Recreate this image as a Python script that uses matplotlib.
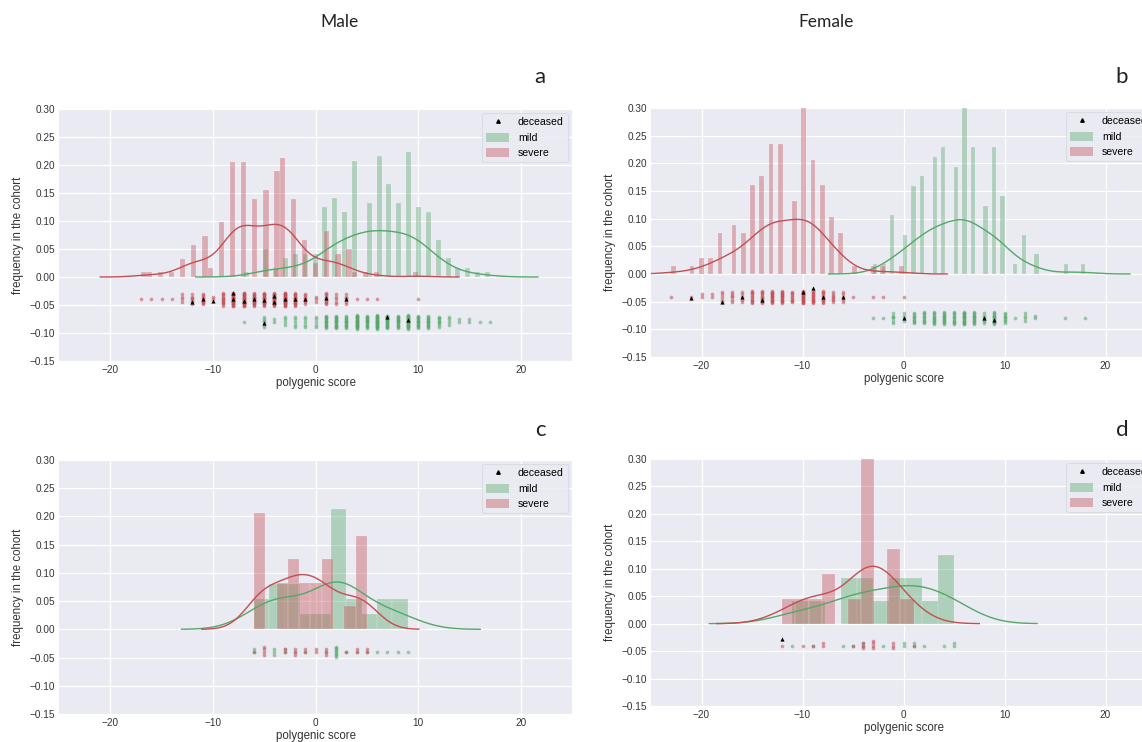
import numpy as np
import matplotlib.pyplot as plt
from matplotlib.patches import Patch
from matplotlib.lines import Line2D

plt.rcParams['font.family'] = ['Liberation Sans', 'DejaVu Sans']

RED = '#c44e52'
GREEN = '#55a868'

# a: male, large cohort (integer polygenic scores and patient counts)
sev_a_score = [-17, -16, -15, -14, -13, -12, -11, -10, -9, -8, -7, -6, -5, -4, -3, -2, -1, 0, 1, 2, 3, 4, 5, 6, 10]
sev_a_count = [1, 1, 1, 1, 4, 7, 9, 2, 12, 25, 25, 17, 19, 23, 26, 17, 8, 3, 10, 5, 6, 1, 1, 1, 1]
mild_a_score = [-7, -5, -4, -3, -2, -1, 0, 1, 2, 3, 4, 5, 6, 7, 8, 9, 10, 11, 12, 13, 14, 15, 16, 17]
mild_a_count = [1, 6, 2, 4, 5, 5, 5, 15, 17, 14, 25, 16, 26, 20, 16, 27, 15, 14, 8, 4, 2, 2, 1, 1]
dec_a_x = [-12, -11, -10, -8, -8, -7, -6, -5, -4, -4, -3, -2, -1, 1, 3, -5, 7, 9]
dec_a_y = [-0.045, -0.039, -0.043, -0.028, -0.040, -0.042, -0.039, -0.041, -0.034, -0.044,
           -0.040, -0.040, -0.040, -0.037, -0.039, -0.083, -0.071, -0.077]

# b: female, large cohort
sev_b_score = [-23, -21, -20, -19, -18, -17, -16, -15, -14, -13, -12, -11, -10, -9, -8, -7, -6, -5, -3, -2, 0]
sev_b_count = [1, 1, 2, 2, 5, 6, 5, 11, 12, 16, 16, 9, 21, 14, 11, 7, 5, 1, 1, 1, 1]
mild_b_score = [-3, -2, -1, 0, 1, 2, 3, 4, 5, 6, 7, 8, 9, 10, 11, 12, 13, 16, 18]
mild_b_count = [1, 1, 6, 4, 9, 10, 12, 13, 11, 18, 13, 7, 13, 8, 1, 4, 2, 1, 1]
dec_b_x = [-21, -18, -16, -14, -10, -9, -8, -6, 0, 8, 9]
dec_b_y = [-0.044, -0.050, -0.042, -0.047, -0.033, -0.025, -0.041, -0.042, -0.080, -0.080, -0.083]

# c: male, small cohort
sev_c_score = [-6, -5, -3, -2, -1, 0, 1, 3, 4, 5]
sev_c_count = [1, 4, 2, 3, 2, 2, 3, 1, 2, 2]
mild_c_score = [-6, -4, -3, -2, -1, 1, 2, 3, 4, 5, 6, 7, 8, 9]
mild_c_count = [2, 3, 2, 1, 1, 1, 8, 1, 1, 1, 1, 1, 1, 1]
dec_c_x = []
dec_c_y = []

# d: female, small cohort
sev_d_score = [-12, -10, -9, -8, -5, -4, -3, -1, 1]
sev_d_count = [1, 1, 1, 2, 1, 3, 4, 3, 1]
mild_d_score = [-11, -9, -6, -5, -4, -2, 0, 1, 2, 4, 5]
mild_d_count = [1, 1, 1, 1, 2, 1, 2, 2, 1, 1, 2]
dec_d_x = [-12]
dec_d_y = [-0.028]

y_ticks = [-0.15, -0.10, -0.05, 0.00, 0.05, 0.10, 0.15, 0.20, 0.25, 0.30]
x_ticks = [-20, -10, 0, 10, 20]

# vertical spread of the strip points (thousandths)
JITTER = [0, 5, -5, 9, -9, 2, -3, 7, -7, 11, -11, -1, 4, -6, 8, 3, -10, 10, -4, 6, 1, -8, -2, 12, -12]


def kde(data):
    n = len(data)
    sd = data.std(ddof=1)
    iqr = np.percentile(data, 75) - np.percentile(data, 25)
    bw = 1.059 * min(sd, iqr / 1.349) * n ** -0.2
    grid = np.linspace(data.min() - 3 * bw, data.max() + 3 * bw, 100)
    z = (grid[:, None] - data[None, :]) / bw
    dens = np.exp(-0.5 * z ** 2).sum(1) / (n * bw * np.sqrt(2 * np.pi))
    return grid, dens


def strip(scores, counts, row):
    xs, ys = [], []
    for s, c in zip(scores, counts):
        for k in range(c):
            xs.append(s)
            ys.append(row + JITTER[k % len(JITTER)] / 1000)
    return xs, ys


fig = plt.figure(figsize=(11.42, 7.42), dpi=100)


def panel(rect, sev, mild, dec, bins, rows):
    ax = fig.add_axes(rect)
    ax.set_facecolor('#eaeaf2')
    for sp in ax.spines.values():
        sp.set_visible(False)
    ax.grid(True, color='white', linewidth=0.9)
    ax.set_axisbelow(True)

    for (sc, cn), col, row in [(mild, GREEN, rows[1]), (sev, RED, rows[0])]:
        data = np.repeat(np.array(sc, float), cn)
        ax.hist(data, bins=bins, density=True, color=col, alpha=0.4,
                edgecolor='white', linewidth=0.3)
        gx, gy = kde(data)
        ax.plot(gx, gy, color=col, lw=1.0)
        xs, ys = strip(sc, cn, row)
        ax.scatter(xs, ys, s=7, color=col, alpha=0.55, linewidths=0)
    ax.scatter(dec[0], dec[1], s=9, marker='^', color='black', linewidths=0, zorder=5)

    ax.set_xlim(-25, 25)
    ax.set_ylim(-0.15, 0.30)
    ax.set_xticks(x_ticks)
    ax.set_yticks(y_ticks)
    ax.set_yticklabels(['%.2f' % v if v >= 0 else '\u2212%.2f' % -v for v in y_ticks])
    ax.set_xticklabels([str(v) if v >= 0 else '\u2212%d' % -v for v in x_ticks])
    ax.tick_params(length=0, labelsize=7.2, labelcolor='#333333', pad=3)
    ax.set_xlabel('polygenic score', fontsize=8.3, color='#333333', labelpad=1)
    ax.set_ylabel('frequency in the cohort', fontsize=8.3, color='#333333', labelpad=4)

    handles = [Line2D([], [], marker='^', color='black', linestyle='', markersize=2.5),
               Patch(facecolor=GREEN, alpha=0.4),
               Patch(facecolor=RED, alpha=0.4)]
    leg = ax.legend(handles, ['deceased', 'mild', 'severe'], loc='upper right',
                    fontsize=7.6, frameon=True, borderaxespad=0.4,
                    handlelength=2.2, handleheight=0.9)
    leg.get_frame().set_facecolor('#eaeaf2')
    leg.get_frame().set_edgecolor('#d8d8e0')
    leg.get_frame().set_linewidth(0.8)
    return ax


panel([59 / 1142, 1 - 361 / 742, 513 / 1142, 252 / 742],
      (sev_a_score, sev_a_count), (mild_a_score, mild_a_count), (dec_a_x, dec_a_y), 50, (-0.040, -0.080))
panel([651 / 1142, 1 - 357 / 742, 505 / 1142, 249 / 742],
      (sev_b_score, sev_b_count), (mild_b_score, mild_b_count), (dec_b_x, dec_b_y), 50, (-0.042, -0.080))
panel([59 / 1142, 1 - 714 / 742, 513 / 1142, 254 / 742],
      (sev_c_score, sev_c_count), (mild_c_score, mild_c_count), (dec_c_x, dec_c_y), 10, (-0.040, -0.040))
panel([651 / 1142, 1 - 706 / 742, 505 / 1142, 247 / 742],
      (sev_d_score, sev_d_count), (mild_d_score, mild_d_count), (dec_d_x, dec_d_y), 10, (-0.040, -0.040))

title_font = ['Lato', 'DejaVu Sans']
fig.text(340 / 1142, 1 - 22 / 742, 'Male', fontsize=12.5, ha='center', va='center',
         family=title_font, color='#222222')
fig.text(826 / 1142, 1 - 22 / 742, 'Female', fontsize=12.5, ha='center', va='center',
         family=title_font, color='#222222')
for lx, ly, t in [(540, 77, 'a'), (1122, 77, 'b'), (540, 430, 'c'), (1122, 430, 'd')]:
    fig.text(lx / 1142, 1 - ly / 742, t, fontsize=16, ha='center', va='center',
             family=title_font, color='#222222')

fig.savefig('out.png', dpi=100)
